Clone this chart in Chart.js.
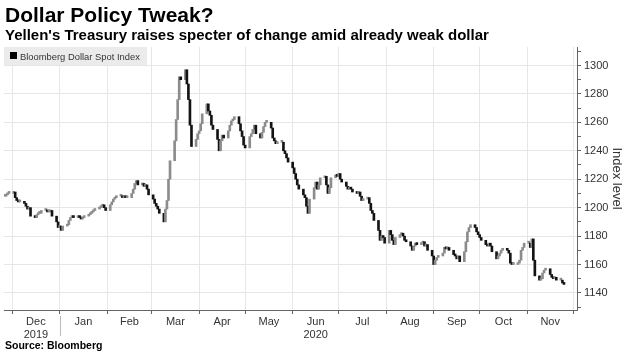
<!DOCTYPE html>
<html>
<head>
<meta charset="utf-8">
<script src="https://cdn.jsdelivr.net/npm/chart.js@4.4.1/dist/chart.umd.min.js"></script>
<style>
  body { margin: 0; background: #fff; font-family: 'Liberation Sans', Arial, sans-serif; }
  #page { position: relative; width: 628px; height: 354px; overflow: hidden; }
  canvas { position: absolute; left: 0; top: 0; }
  .txt { position: absolute; white-space: nowrap; line-height: 1; transform-origin: 0 0; }
  #title { left: 5px; top: 4px; font-size: 21px; font-weight: bold; color: #000; }
  #subtitle { left: 5px; top: 27px; font-size: 15px; font-weight: bold; color: #000; }
  #source { left: 5px; top: 340px; font-size: 10.5px; font-weight: bold; color: #000; }
  #legend { position: absolute; left: 4px; top: 47px; width: 143px; height: 18px; background: #ebebeb; }
  #legend .sq { position: absolute; left: 6px; top: 5px; width: 7px; height: 7px; background: #000; }
  #legendText { left: 16px; top: 4.5px; font-size: 9.4px; color: #333; }
</style>
</head>
<body>
<div id="page">
  <canvas id="chart" width="628" height="354"></canvas>
  <div id="title" class="txt">Dollar Policy Tweak?</div>
  <div id="subtitle" class="txt">Yellen's Treasury raises specter of change amid already weak dollar</div>
  <div id="legend"><div class="sq"></div><div id="legendText" class="txt">Bloomberg Dollar Spot Index</div></div>
  <div id="source" class="txt">Source: Bloomberg</div>
</div>
<script>
// daily closes (weekdays from the given start day)
const firstOpen = 1208;
const nov19 = [1208, 1209, 1210, 1210];
const dec19 = [1211, 1207, 1205, 1204, 1204, 1203, 1201, 1199, 1200, 1194, 1193, 1195, 1196, 1196, 1198, 1198, 1197, 1197, 1198, 1194, 1190, 1186];
const jan20 = [1187, 1184, 1187, 1188, 1191, 1193, 1194, 1193, 1194, 1193, 1192, 1193, 1194, 1195, 1196, 1197, 1198, 1199, 1200, 1201, 1202, 1200, 1198];
const feb20 = [1202, 1204, 1206, 1207, 1208, 1208, 1207, 1208, 1207, 1207, 1210, 1213, 1217, 1219, 1216, 1217, 1215, 1216, 1213, 1209];
const mar20 = [1206, 1203, 1201, 1199, 1196, 1190, 1199, 1205, 1220, 1233, 1247, 1262, 1276, 1292, 1290, 1297, 1287, 1276, 1258, 1243, 1248, 1252];
const apr20 = [1254, 1259, 1266, 1273, 1268, 1265, 1258, 1255, 1248, 1240, 1247, 1251, 1249, 1254, 1258, 1261, 1262, 1264, 1259, 1254, 1250, 1244];
const may20 = [1242, 1250, 1252, 1255, 1258, 1252, 1249, 1253, 1257, 1260, 1260, 1256, 1249, 1247, 1245, 1246, 1246, 1240, 1238, 1235, 1232];
const jun20 = [1228, 1224, 1220, 1216, 1213, 1209, 1207, 1201, 1196, 1206, 1214, 1218, 1213, 1216, 1221, 1222, 1216, 1210, 1214, 1221, 1223, 1222];
const jul20 = [1224, 1220, 1218, 1215, 1213, 1214, 1213, 1211, 1210, 1211, 1208, 1205, 1206, 1207, 1203, 1198, 1196, 1191, 1184, 1177, 1180, 1179, 1175];
const aug20 = [1184, 1181, 1177, 1174, 1179, 1181, 1182, 1180, 1177, 1176, 1173, 1170, 1173, 1175, 1174, 1175, 1176, 1173, 1174, 1170, 1166];
const sep20 = [1160, 1163, 1165, 1166, 1168, 1172, 1171, 1172, 1170, 1167, 1166, 1164, 1166, 1162, 1169, 1176, 1183, 1186, 1188, 1186, 1183, 1181];
const oct20 = [1179, 1177, 1174, 1173, 1175, 1173, 1169, 1164, 1166, 1168, 1170, 1171, 1170, 1168, 1161, 1160, 1160, 1161, 1163, 1170, 1172, 1175];
const nov20 = [1175, 1172, 1178, 1163, 1152, 1149, 1150, 1154, 1156, 1157, 1153, 1151, 1150, 1151, 1149, 1149, 1147, 1146];

// [year, month (0-based), first day, closes]
const months = [
  [2019, 10, 26, nov19], [2019, 11, 1, dec19], [2020, 0, 1, jan20], [2020, 1, 1, feb20],
  [2020, 2, 1, mar20], [2020, 3, 1, apr20], [2020, 4, 1, may20], [2020, 5, 1, jun20],
  [2020, 6, 1, jul20], [2020, 7, 1, aug20], [2020, 8, 1, sep20], [2020, 9, 1, oct20],
  [2020, 10, 1, nov20]
];

const monthLabels = [['Dec', '2019'], 'Jan', 'Feb', 'Mar', 'Apr', 'May', ['Jun', '2020'], 'Jul', 'Aug', 'Sep', 'Oct', 'Nov'];
const yMin = 1128, yMax = 1313;

const FONT = "'Liberation Sans', Arial, sans-serif";
const upColor = '#8c8c8c';
const downColor = '#141414';

const origin = Date.UTC(2019, 11, 1);
function dayNum(y, m, d) {
    return (Date.UTC(y, m, d) - origin) / 864e5;
}

// candles: open = previous close
const bars = [];
const colors = [];
let prev = firstOpen;
months.forEach(([y, m, d0, closes]) => {
    let d = d0, i = 0;
    while (i < closes.length) {
        const wd = new Date(Date.UTC(y, m, d)).getUTCDay();
        if (wd !== 0 && wd !== 6) {
            const c = closes[i++];
            bars.push({ x: dayNum(y, m, d), y: [prev, c] });
            colors.push(c >= prev ? upColor : downColor);
            prev = c;
        }
        d++;
    }
});

// month boundaries (grid + tick marks) and mid-month label positions
const bounds = [];
for (let k = 0; k <= 12; k++) bounds.push(dayNum(2019, 11 + k, 1));
const xLabels = new Map();
bounds.forEach(b => xLabels.set(b, ''));
for (let k = 0; k < 12; k++) xLabels.set((bounds[k] + bounds[k + 1]) / 2, monthLabels[k]);
const boundSet = new Set(bounds);
const xTicks = [...xLabels.keys()].sort((a, b) => a - b);

const yearDivider = {
    id: 'yearDivider',
    afterDraw(chart) {
        const c = chart.ctx;
        const x = Math.round(chart.scales.x.getPixelForValue(dayNum(2020, 0, 1))) + 0.5;
        c.save();
        c.strokeStyle = '#bbb';
        c.lineWidth = 1;
        c.beginPath();
        c.moveTo(x, 316);
        c.lineTo(x, 336);
        c.stroke();
        c.restore();
    }
};

new Chart(document.getElementById('chart'), {
    type: 'bar',
    data: {
        datasets: [{
            data: bars,
            backgroundColor: colors,
            barThickness: 2,
            minBarLength: 2,
            grouped: false
        }]
    },
    options: {
        responsive: false,
        devicePixelRatio: 1,
        animation: false,
        layout: { padding: { left: 4, top: 47, right: 0, bottom: 0 } },
        plugins: {
            legend: { display: false },
            tooltip: { enabled: false }
        },
        scales: {
            x: {
                type: 'linear',
                min: -5.3,
                max: 368.5,
                offset: false,
                afterFit: s => { s.height = 44; },
                afterBuildTicks: s => { s.ticks = xTicks.map(v => ({ value: v })); },
                ticks: {
                    autoSkip: false,
                    maxRotation: 0,
                    minRotation: 0,
                    padding: 1,
                    color: '#333',
                    font: { family: FONT, size: 11 },
                    callback: v => xLabels.get(v) ?? ''
                },
                grid: {
                    offset: false,
                    tickLength: 4,
                    color: c => boundSet.has(c.tick && c.tick.value) ? '#e6e6e6' : 'rgba(0,0,0,0)',
                    tickColor: c => boundSet.has(c.tick && c.tick.value) ? '#666' : 'rgba(0,0,0,0)'
                },
                border: { color: '#666' }
            },
            y: {
                position: 'right',
                min: yMin,
                max: yMax,
                beginAtZero: false,
                afterFit: s => { s.width = 51; },
                ticks: {
                    stepSize: 10,
                    includeBounds: false,
                    autoSkip: false,
                    padding: 3,
                    color: '#333',
                    font: { family: FONT, size: 11 },
                    callback: v => (v % 20 === 0 ? String(v) : '')
                },
                grid: {
                    tickLength: 4,
                    color: c => (c.tick && c.tick.value % 20 === 0) ? '#e6e6e6' : 'rgba(0,0,0,0)',
                    tickColor: '#666'
                },
                border: { color: '#666' },
                title: {
                    display: true,
                    text: 'Index level',
                    color: '#333',
                    font: { family: FONT, size: 13 },
                    padding: { top: 4, bottom: 0 }
                }
            }
        }
    },
    plugins: [yearDivider]
});
</script>
</body>
</html>
